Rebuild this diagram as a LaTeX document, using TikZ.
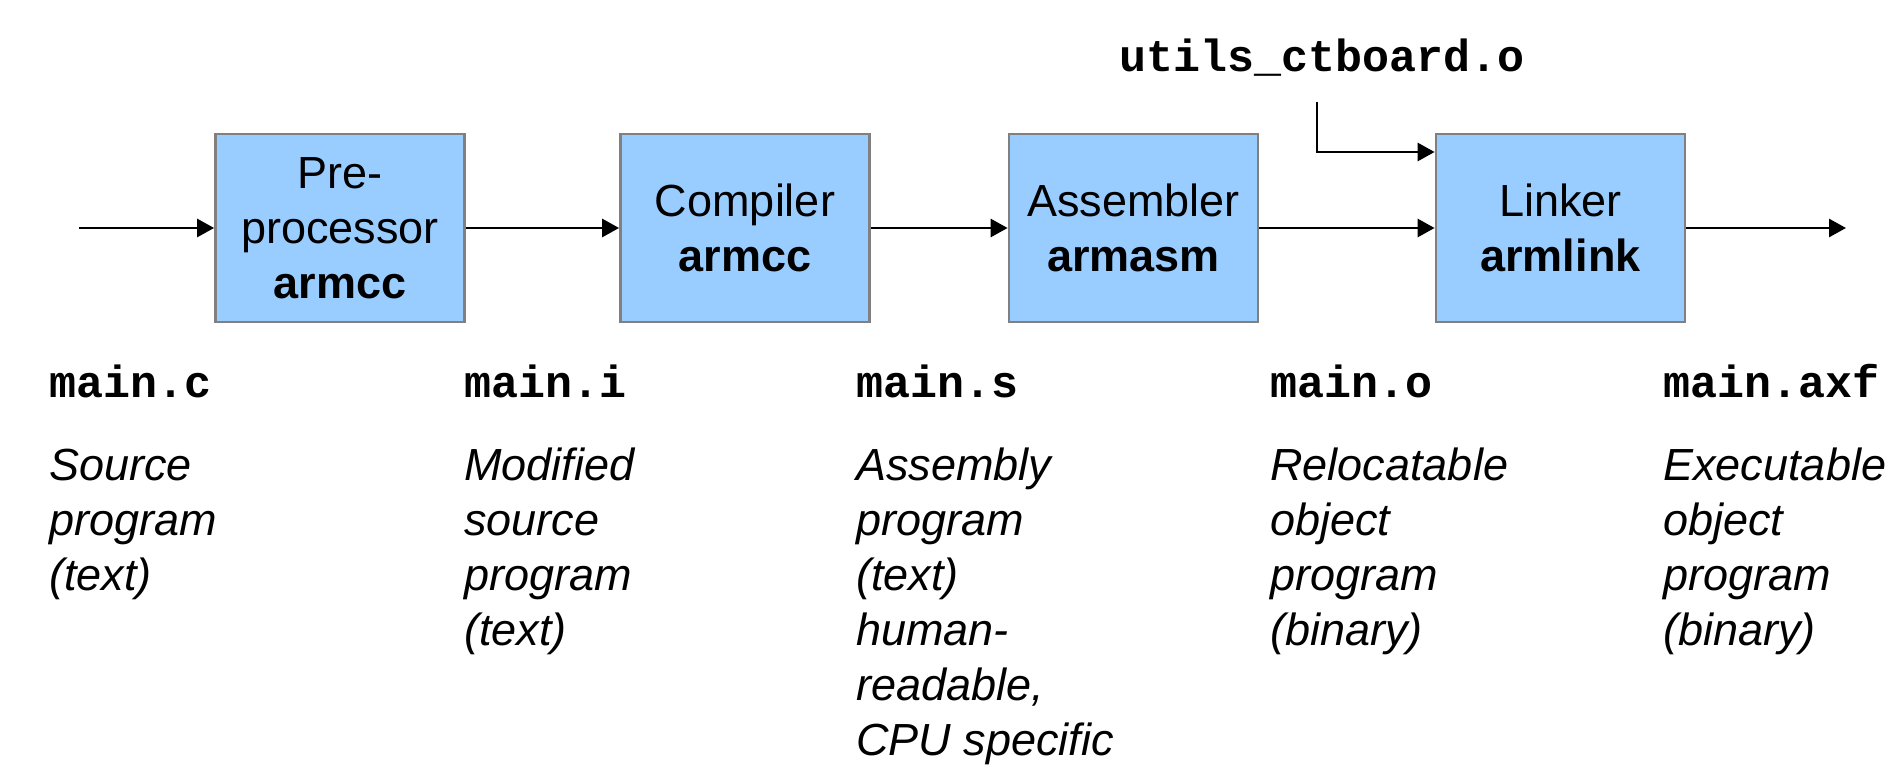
\documentclass[tikz,border=0pt]{standalone}
\usepackage{fontspec}
\setmainfont{Liberation Sans}
\newfontfamily\monofnt{Liberation Mono}
\usetikzlibrary{arrows.meta}
\definecolor{boxblue}{HTML}{99CCFF}
\definecolor{boxgray}{HTML}{808080}
\begin{document}
\begin{tikzpicture}[x=0.5pt,y=-0.5pt,
  stage/.style={draw=boxgray,line width=1.4pt,fill=boxblue,minimum width=124.5pt,minimum height=94pt,inner sep=0pt,align=center,font=\fontsize{22.5}{27.5}\selectfont},
  arr/.style={line width=1.4pt,-{Triangle[length=8.5pt,width=9pt]}},
  file/.style={anchor=base west,inner sep=0pt,font=\fontsize{22.5}{27.5}\selectfont\monofnt\bfseries},
  desc/.style={anchor=north west,inner sep=0pt,align=left,font=\fontsize{22.5}{27.5}\selectfont\itshape}]
\useasboundingbox (0,0) rectangle (1898,774);
\node[stage] (b1) at (340,228) {Pre-\\processor\\\textbf{armcc}};
\node[stage] (b2) at (745,228) {Compiler\\\textbf{armcc}};
\node[stage] (b3) at (1133.5,228) {Assembler\\\textbf{armasm}};
\node[stage] (b4) at (1560.5,228) {Linker\\\textbf{armlink}};
\coordinate (in) at (79,228);
\coordinate (out) at (1846,228);
\draw[arr] (in) -- (b1.west);
\draw[arr] (b1.east) -- (b2.west);
\draw[arr] (b2.east) -- (b3.west);
\draw[arr] (b3.east) -- (b4.west);
\draw[arr] (b4.east) -- (out);
\node[file] (ut) at (1119,72) {utils\_ctboard.o};
\coordinate (u) at (1317,102);
\coordinate (uj) at (1317,152);
\draw[arr] (u) -- (uj) -- (uj -| b4.west);
\node[file] (f1) at (49,398) {main.c};
\node[file] (f2) at (464,398) {main.i};
\node[file] (f3) at (856,398) {main.s};
\node[file] (f4) at (1270,398) {main.o};
\node[file] (f5) at (1663,398) {main.axf};
\node[desc] (d1) at (49,441.5) {\strut Source\\program\\(text)};
\node[desc] (d2) at (464,441.5) {\strut Modified\\source\\program\\(text)};
\node[desc] (d3) at (856,441.5) {\strut Assembly\\program\\(text)\\human-\\readable,\\CPU specific};
\node[desc] (d4) at (1270,441.5) {\strut Relocatable\\object\\program\\(binary)};
\node[desc] (d5) at (1663,441.5) {\strut Executable\\object\\program\\(binary)};
\end{tikzpicture}
\end{document}
